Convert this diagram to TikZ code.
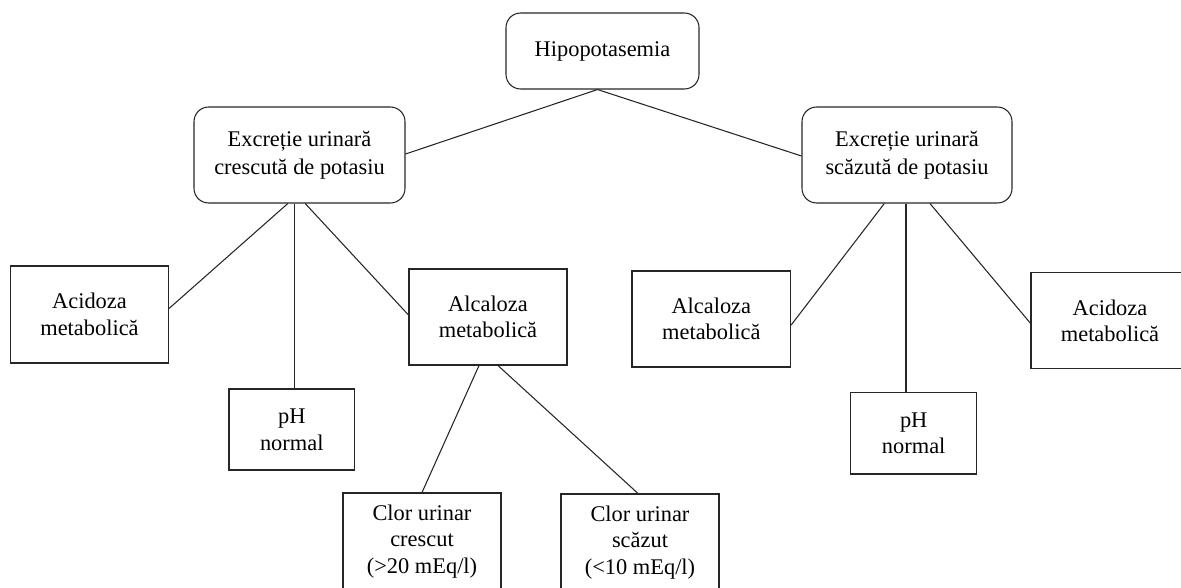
\documentclass[tikz,border=0pt]{standalone}
\usepackage{fontspec}
\setmainfont{Liberation Serif}
\usetikzlibrary{calc}
\begin{document}
\begin{tikzpicture}[x=0.75pt,y=-0.75pt,
  box/.style={draw=black!85, line width=0.8pt, align=center, inner sep=0pt, font=\fontsize{16.8}{20}\selectfont},
  rbox/.style={box, rounded corners=11pt, font=\fontsize{16.8}{21.3}\selectfont},
  conn/.style={draw=black!85, line width=0.8pt}]
\useasboundingbox (0,0) rectangle (1181,588);
% nodes
\node[rbox, minimum width=144.75pt, minimum height=57pt] (hipo) at (602.5,51) {Hipopotasemia};
\node[rbox, minimum width=158.25pt, minimum height=72pt] (L) at (299.5,155) {Excreție urinară\\crescută de potasiu};
\node[rbox, minimum width=157.5pt, minimum height=72pt] (R) at (907,155) {Excreție urinară\\scăzută de potasiu};
\node[box, minimum width=118.5pt, minimum height=72.75pt] (LA) at (89.5,314.5) {Acidoza\\metabolică};
\node[box, minimum width=94.1pt, minimum height=60.75pt] (LpH) at (291.75,429.5) {pH\\normal};
\node[box, minimum width=118.5pt, minimum height=72pt] (LAlc) at (488,317) {Alcaloza\\metabolică};
\node[box, minimum width=118.5pt, minimum height=72.75pt] (C1) at (422,541.5) {Clor urinar\\crescut\\(>20 mEq/l)};
\node[box, minimum width=118.5pt, minimum height=72.75pt] (C2) at (640,542.5) {Clor urinar\\scăzut\\(<10 mEq/l)};
\node[box, minimum width=119pt, minimum height=72pt] (RA) at (711.3,319) {Alcaloza\\metabolică};
\node[box, minimum width=94.5pt, minimum height=61pt] (RpH) at (913.7,433.3) {pH\\normal};
\node[box, minimum width=118.5pt, minimum height=72.2pt] (RAc) at (1110,320.8) {Acidoza\\metabolică};
% connection points
\coordinate (hb) at ($(hipo.south)+(-5,0)$);
\coordinate (l1) at ($(L.south)+(-11.7,0)$);
\coordinate (l2) at ($(L.south)+(-4.6,0)$);
\coordinate (l3) at ($(L.south)+(5.7,0)$);
\coordinate (a1) at ($(LAlc.south)+(-9,0)$);
\coordinate (a2) at ($(LAlc.south)+(10,0)$);
\coordinate (r1) at ($(R.south)+(-22.7,0)$);
\coordinate (r2) at ($(R.south)+(-1,0)$);
\coordinate (r3) at ($(R.south)+(23,0)$);
% connectors
\draw[conn] (hb) -- ($(L.east)+(0,-1)$);
\draw[conn] (hb) -- ($(R.west)+(0,1)$);
\draw[conn] (l1) -- ($(LA.east)+(0,-6)$);
\draw[conn] (l2) -- (l2 |- LpH.north);
\draw[conn] (l3) -- ($(LAlc.west)+(0,-2)$);
\draw[conn] (a1) -- (C1.north);
\draw[conn] (a2) -- ($(C2.north)+(-2,0)$);
\draw[conn] (r1) -- ($(RA.east)+(0,6)$);
\draw[conn] (r2) -- (r2 |- RpH.north);
\draw[conn] (r3) -- ($(RAc.west)+(0,2.5)$);
\end{tikzpicture}
\end{document}
